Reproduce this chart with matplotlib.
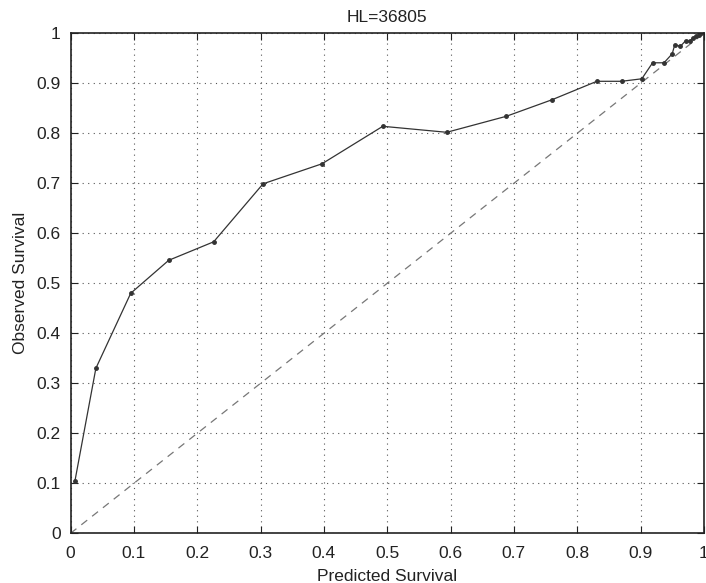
import matplotlib
matplotlib.use("Agg")
import matplotlib.pyplot as plt
import numpy as np

title = "HL=36805"
predicted = [0.007, 0.040, 0.095, 0.155, 0.226, 0.304, 0.397, 0.493, 0.594, 0.688, 0.760,
             0.831, 0.870, 0.902, 0.919, 0.937, 0.950, 0.954, 0.963, 0.971, 0.978,
             0.983, 0.988, 0.992, 0.995]
observed = [0.105, 0.330, 0.480, 0.546, 0.583, 0.699, 0.739, 0.814, 0.802, 0.834, 0.867,
            0.904, 0.904, 0.909, 0.941, 0.941, 0.959, 0.977, 0.974, 0.985, 0.984,
            0.991, 0.994, 0.996, 1.000]
ticks = [0, 0.1, 0.2, 0.3, 0.4, 0.5, 0.6, 0.7, 0.8, 0.9, 1]
tick_labels = ["0", "0.1", "0.2", "0.3", "0.4", "0.5", "0.6", "0.7", "0.8", "0.9", "1"]

plt.rcParams['font.family'] = ['Liberation Sans', 'DejaVu Sans']
fig = plt.figure(figsize=(7.06, 5.83), dpi=100)
ax = fig.add_axes([0.0999, 0.0852, 0.8971, 0.8577])

ax.plot([0, 1], [0, 1], linestyle=(0, (6, 5)), color='#777777', linewidth=0.9)
ax.plot(predicted, observed, color='#333333', linewidth=0.9, marker='o', markersize=2.5)

ax.set_xlim(0, 1)
ax.set_ylim(0, 1)
ax.set_xticks(ticks)
ax.set_xticklabels(tick_labels)
ax.set_yticks(ticks)
ax.set_yticklabels(tick_labels)
ax.tick_params(direction='in', top=True, right=True, labelsize=12.5, length=5, width=0.8, colors='#222222')
ax.tick_params(axis='x', pad=9)
ax.tick_params(axis='y', pad=7)
ax.grid(True, linestyle=(0, (1, 4)), color='#555555', linewidth=0.8)
for s in ax.spines.values():
    s.set_linewidth(1.2)
    s.set_color('#222222')
ax.set_xlabel("Predicted Survival", fontsize=12.5, color='#222222', labelpad=6)
ax.set_ylabel("Observed Survival", fontsize=12.5, color='#222222', labelpad=6)
ax.set_title(title, fontsize=12.5, color='#222222', pad=8)

fig.savefig("out.png", dpi=100)
